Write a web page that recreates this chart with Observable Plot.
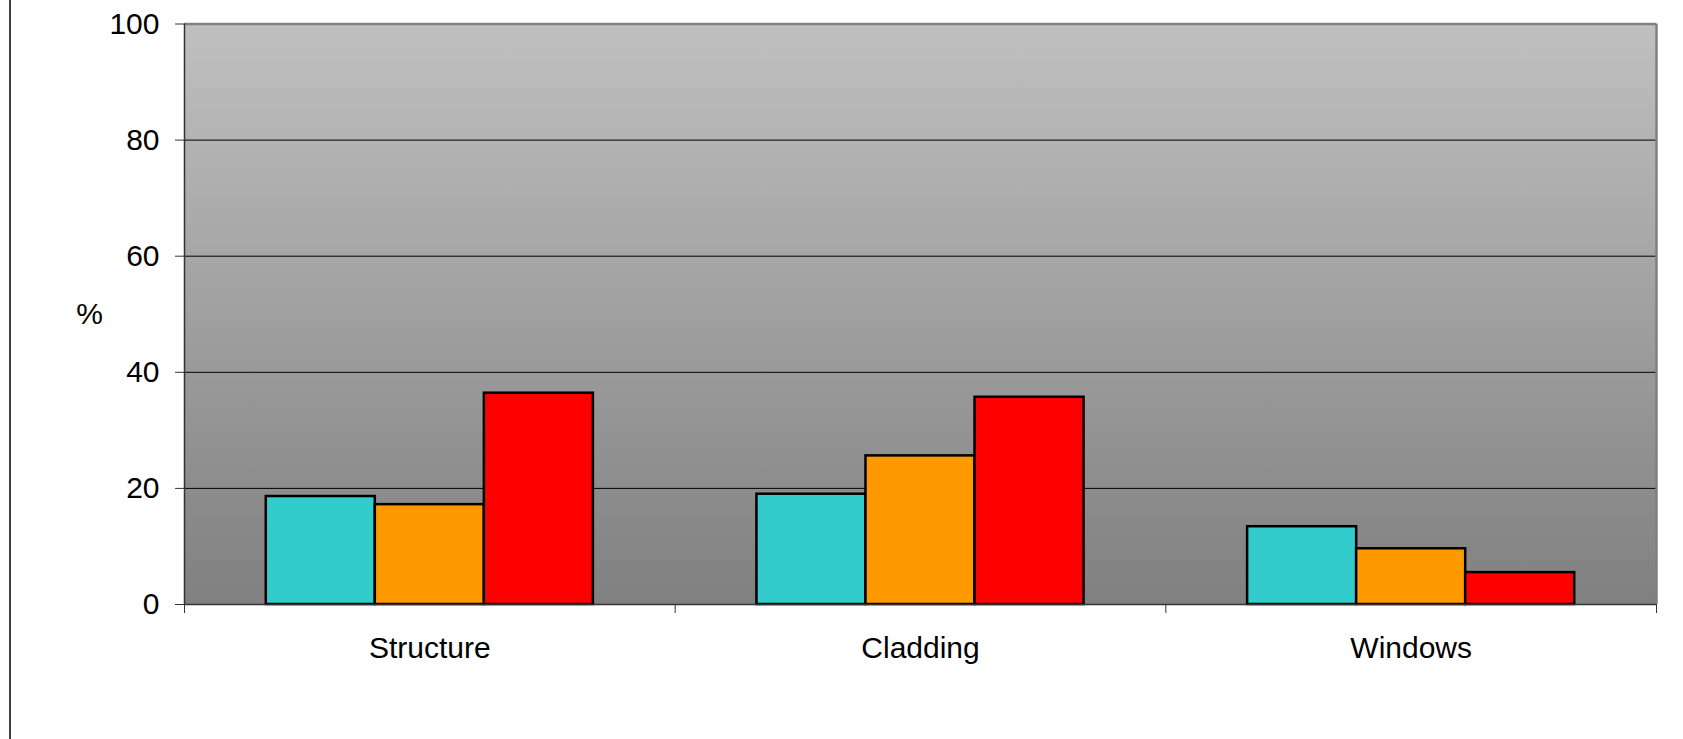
<!DOCTYPE html>
<html>
<head>
<meta charset="utf-8">
<script src="https://cdn.jsdelivr.net/npm/d3@7"></script>
<script src="https://cdn.jsdelivr.net/npm/@observablehq/plot@0.6"></script>
<style>
  html, body { margin: 0; padding: 0; background: #ffffff; }
  body { position: relative; width: 1683px; height: 739px; overflow: hidden; }
  body::before { content: ""; position: absolute; left: 9px; top: 0; bottom: 0; width: 2px; background: #404040; }
  #chart svg { display: block; }
</style>
</head>
<body>
<div id="chart"></div>
<script>
// ---- data ----
const categories = ["Structure", "Cladding", "Windows"];
const seriesNames = ["Series 1", "Series 2", "Series 3"];
const series1 = [18.6, 19.0, 13.4];
const series2 = [17.2, 25.6, 9.6];
const series3 = [36.4, 35.7, 5.5];
const seriesColors = ["#33cccc", "#ff9900", "#ff0000"];
const yTicks = [0, 20, 40, 60, 80, 100];

// Excel-style clustered columns: gap width 150% of a bar
const nSeries = seriesNames.length;
const gapRatio = 1.5;
const slot = 1 / (nSeries + gapRatio);

const allSeries = [series1, series2, series3];
const rows = [];
categories.forEach((c, ci) => {
  allSeries.forEach((vals, si) => {
    rows.push({category: c, ci, series: seriesNames[si], si, value: vals[ci]});
  });
});

const chart = Plot.plot({
  width: 1683,
  height: 739,
  marginLeft: 184,
  marginRight: 27,
  marginTop: 23.5,
  marginBottom: 135,
  style: {fontFamily: "'Liberation Sans', Arial, sans-serif", fontSize: "30px", color: "#000", background: "transparent"},
  x: {domain: [0, categories.length], axis: null},
  y: {domain: [0, 100], axis: null},
  color: {domain: seriesNames, range: seriesColors},
  marks: [
    Plot.frame({fill: "url(#plotbg)", stroke: "none"}),
    Plot.ruleY(yTicks.filter(t => t > 0 && t < 100), {stroke: "#000", strokeWidth: 1}),
    Plot.ruleY([100], {stroke: "#808080", strokeWidth: 2.5}),
    Plot.ruleX([categories.length], {stroke: "#808080", strokeWidth: 2.5}),
    Plot.rectY(rows, {
      x1: d => d.ci + slot * (gapRatio / 2 + d.si),
      x2: d => d.ci + slot * (gapRatio / 2 + d.si + 1),
      y1: 0,
      y2: "value",
      fill: "series",
      stroke: "#000",
      strokeWidth: 2.5
    }),
    Plot.ruleX([0], {stroke: "#333", strokeWidth: 1.5}),
    Plot.ruleY([0], {stroke: "#333", strokeWidth: 1.5}),
    Plot.axisY({ticks: yTicks, tickSize: 9, tickPadding: 16, stroke: "#333", fontSize: 30, label: null}),
    Plot.axisX({ticks: d3.range(categories.length + 1), tickSize: 9, tickFormat: () => "", stroke: "#333", label: null}),
    Plot.axisX({ticks: categories.map((c, i) => i + 0.5), tickSize: 0, tickPadding: 32, tickFormat: v => categories[Math.floor(v)], fontSize: 30, label: null}),
    Plot.text(["%"], {frameAnchor: "left", dx: -95, textAnchor: "middle", fontSize: 30})
  ]
});

const defs = d3.select(chart).insert("defs", ":first-child");
const grad = defs.append("linearGradient").attr("id", "plotbg").attr("x1", 0).attr("y1", 0).attr("x2", 0).attr("y2", 1);
grad.append("stop").attr("offset", "0%").attr("stop-color", "#c0c0c0");
grad.append("stop").attr("offset", "100%").attr("stop-color", "#808080");

document.getElementById("chart").appendChild(chart);
</script>
</body>
</html>
